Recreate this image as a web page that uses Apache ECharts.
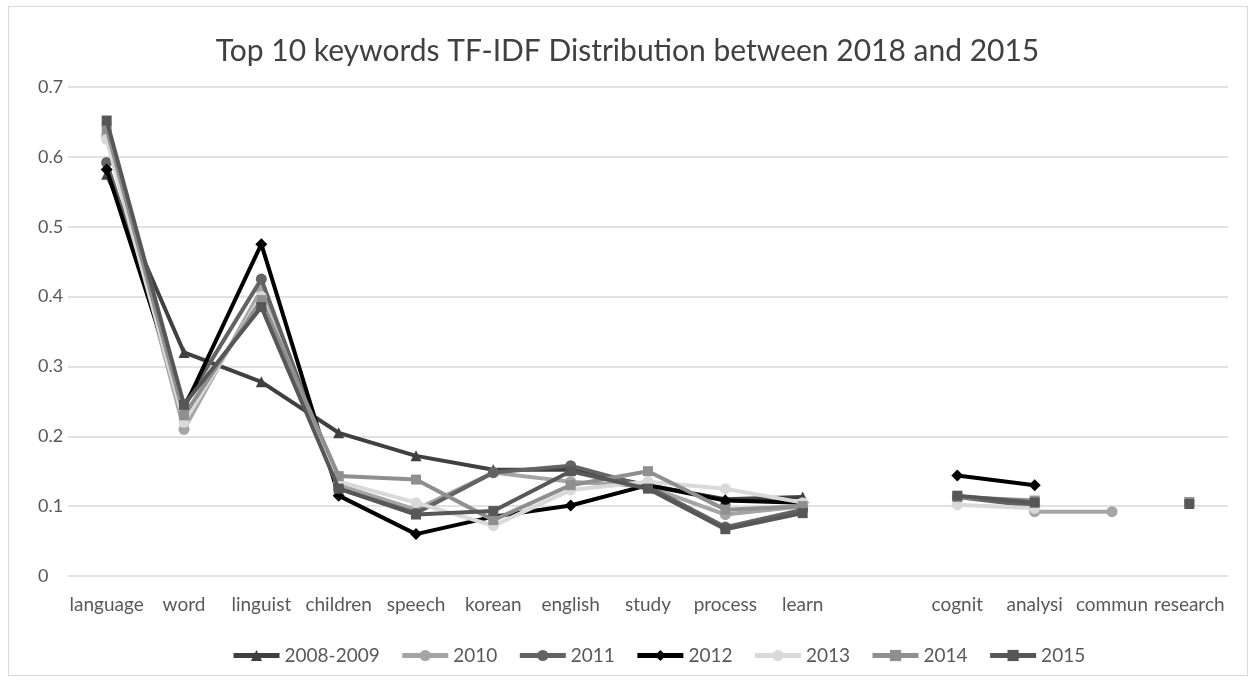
<!DOCTYPE html>
<html>
<head>
<meta charset="utf-8">
<script src="https://cdn.jsdelivr.net/npm/echarts@6/dist/echarts.min.js"></script>
<style>
html,body{margin:0;padding:0;background:#fff;}
#frame{position:absolute;left:8px;top:6px;width:1240px;height:670px;border:1px solid #d9d9d9;box-sizing:border-box;}
#chart{position:absolute;left:0;top:0;width:1255px;height:682px;}
</style>
</head>
<body>
<div id="frame"></div>
<div id="chart"></div>
<script>
const categories = ['language','word','linguist','children','speech','korean','english','study','process','learn','','cognit','analysi','commun','research'];
const yTicks = [0, 0.1, 0.2, 0.3, 0.4, 0.5, 0.6, 0.7];
const seriesNames = ['2008-2009','2010','2011','2012','2013','2014','2015'];
const s0809 = [0.575, 0.320, 0.278, 0.205, 0.172, 0.152, 0.152, 0.130, 0.110, 0.113, null, null, null, null, null];
const s2010 = [0.630, 0.210, 0.410, 0.130, 0.095, 0.148, 0.135, 0.128, 0.088, 0.100, null, null, 0.092, 0.092, null];
const s2011 = [0.592, 0.245, 0.425, 0.125, 0.090, 0.148, 0.158, 0.128, 0.070, 0.095, null, 0.113, 0.100, null, null];
const s2012 = [0.582, 0.240, 0.475, 0.115, 0.060, 0.085, 0.101, 0.130, 0.108, 0.105, null, 0.144, 0.130, null, null];
const s2013 = [0.625, 0.220, 0.400, 0.135, 0.105, 0.072, 0.123, 0.135, 0.125, 0.105, null, 0.102, 0.097, null, null];
const s2014 = [0.640, 0.230, 0.395, 0.143, 0.138, 0.080, 0.130, 0.150, 0.095, 0.100, null, 0.113, 0.108, null, 0.106];
const s2015 = [0.652, 0.245, 0.385, 0.125, 0.088, 0.093, 0.150, 0.125, 0.067, 0.090, null, 0.115, 0.105, null, 0.103];

const allData = [s0809, s2010, s2011, s2012, s2013, s2014, s2015];
const colors = ['#404040','#a5a5a5','#636363','#000000','#d9d9d9','#8f8f8f','#575757'];
const symbols = ['triangle','circle','circle','diamond','circle','rect','rect'];
const symSizes = [11, 11, 11, 12, 11, 10, 10];

const chart = echarts.init(document.getElementById('chart'));
const FONT = 'Lato';
chart.setOption({
  animation: false,
  title: {
    text: 'Top 10 keywords TF-IDF Distribution between 2018 and 2015',
    left: 'center', top: 31,
    textStyle: {fontFamily: FONT, fontSize: 30, fontWeight: 'normal', color: '#404040'}
  },
  legend: {
    bottom: 12, left: 226,
    itemWidth: 46, itemHeight: 14, itemGap: 20,
    lineStyle: {width: 5},
    textStyle: {fontFamily: FONT, fontSize: 19, color: '#595959'},
    data: seriesNames
  },
  grid: {left: 68, right: 27, top: 87, bottom: 106, containLabel: false},
  xAxis: {
    type: 'category', data: categories, boundaryGap: true,
    axisLine: {show: false}, axisTick: {show: false},
    axisLabel: {interval: 0, fontFamily: FONT, fontSize: 19, color: '#595959', margin: 19}
  },
  yAxis: {
    type: 'value', min: yTicks[0], max: yTicks[yTicks.length-1], interval: 0.1,
    axisLine: {show: false}, axisTick: {show: false},
    axisLabel: {fontFamily: FONT, fontSize: 18, color: '#595959', margin: 30, align: 'left',
      formatter: v => String(Math.round(v*10)/10)},
    splitLine: {lineStyle: {color: '#d9d9d9', width: 1.5}}
  },
  series: seriesNames.map((n, i) => ({
    name: n, type: 'line', data: allData[i],
    connectNulls: false,
    symbol: symbols[i], symbolSize: symSizes[i], showAllSymbol: true,
    lineStyle: {color: colors[i], width: 4},
    itemStyle: {color: colors[i]},
    z: 2 + i
  }))
});
</script>
</body>
</html>
